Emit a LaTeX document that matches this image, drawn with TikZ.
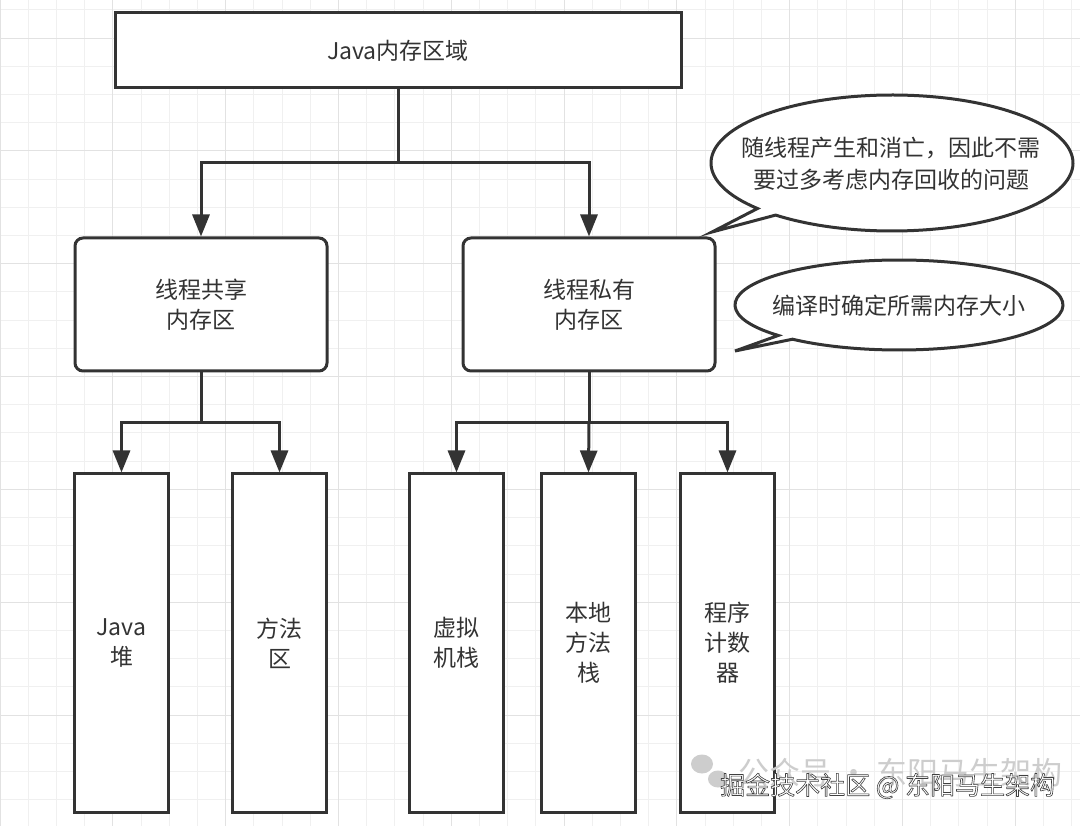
\documentclass[tikz,border=0pt]{standalone}
\usepackage{fontspec}
\setmainfont{Noto Sans CJK SC}
\usetikzlibrary{arrows.meta,calc}
\definecolor{ink}{HTML}{333333}
\definecolor{gridminor}{HTML}{F0F0F0}
\definecolor{gridmajor}{HTML}{E2E2E2}
\definecolor{wmgrey}{HTML}{CDCDCD}
\newcommand{\outlinedtext}[1]{\special{pdf:literal direct 2 Tr 0.6 w 1 j 0.25 0.25 0.25 RG}#1\special{pdf:literal direct 0 Tr}}
\begin{document}
\begin{tikzpicture}[x=1pt,y=-1pt,
  box/.style={draw=ink, line width=3pt, fill=white, text=ink, align=center,
    font=\fontsize{23}{30}\selectfont, inner sep=0pt},
  rbox/.style={box, rounded corners=8pt},
  arr/.style={draw=ink, line width=3pt, -{Triangle[width=17pt,length=22pt]}},
  callout/.style={draw=ink, line width=3pt, fill=white, line join=miter},
  ctext/.style={text=ink, align=center, font=\fontsize{23}{32}\selectfont, inner sep=0pt},
  wmgreytext/.style={text=wmgrey, font=\fontsize{31}{34}\selectfont, inner sep=0pt, anchor=west},
  wmtext/.style={font=\fontsize{25}{28}\selectfont, inner sep=0pt, anchor=west}
]
\useasboundingbox (0,0) rectangle (1080,826);
\fill[white] (0,0) rectangle (1080,826);
% grid
\foreach \k in {0,...,38}{
  \pgfmathsetmacro{\xx}{28.2*\k}
  \draw[gridminor, line width=1pt] (\xx,0) -- (\xx,826);
}
\foreach \k in {0,...,29}{
  \pgfmathsetmacro{\yy}{10+28.2*\k}
  \draw[gridminor, line width=1pt] (0,\yy) -- (1080,\yy);
}
\foreach \k in {0,4,...,36}{
  \pgfmathsetmacro{\xx}{28.2*\k}
  \draw[gridmajor, line width=1pt] (\xx,0) -- (\xx,826);
}
\foreach \k in {1,5,...,29}{
  \pgfmathsetmacro{\yy}{10+28.2*\k}
  \draw[gridmajor, line width=1pt] (0,\yy) -- (1080,\yy);
}

% boxes
\node[box, minimum width=566pt, minimum height=75pt] (top) at (398,50.5) {Java内存区域};
\node[rbox, minimum width=252pt, minimum height=133pt] (m1) at (201,304.5) {线程共享\\内存区};
\node[rbox, minimum width=252pt, minimum height=133pt] (m2) at (589,304.5) {线程私有\\内存区};

\node[box, minimum width=94pt, minimum height=338pt] (b1) at (121.5,643) {Java\\堆};
\node[box, minimum width=94pt, minimum height=338pt] (b2) at (279.5,643) {方法\\区};
\node[box, minimum width=94pt, minimum height=338pt] (b3) at (456.5,643) {虚拟\\机栈};
\node[box, minimum width=94pt, minimum height=338pt] (b4) at (588.5,643) {本地\\方法\\栈};
\node[box, minimum width=94pt, minimum height=338pt] (b5) at (727.5,643) {程序\\计数\\器};

% connectors
\coordinate (j1) at (398,163);
\coordinate (j2) at (201,423);
\coordinate (j3) at (589,423);
\draw[draw=ink, line width=3pt] (top.south) -- (j1);
\draw[arr] (j1) -| (m1.north);
\draw[arr] (j1) -| (m2.north);
\draw[draw=ink, line width=3pt] (m1.south) -- (j2);
\draw[arr] (j2) -| (b1.north);
\draw[arr] (j2) -| (b2.north);
\draw[draw=ink, line width=3pt] (m2.south) -- (j3);
\draw[arr] (j3) -| (b3.north);
\draw[arr] (j3) -- (b4.north);
\draw[arr] (j3) -| (b5.north);

% callouts
\coordinate (t1) at (712,232);
\coordinate (t2) at (735,351);
\draw[callout] (892,163) ++(230:181pt and 68pt)
  arc[start angle=230, end angle=582, x radius=181pt, y radius=68pt] -- (t1) -- cycle;
\node[ctext] (c1) at (891,164) {随线程产生和消亡，因此不需\\要过多考虑内存回收的问题};
\draw[callout] (899,305) ++(229.5:164pt and 45pt)
  arc[start angle=229.5, end angle=582.6, x radius=164pt, y radius=45pt] -- (t2) -- cycle;
\node[ctext] (c2) at (899,306) {编译时确定所需内存大小};

% watermark
\fill[wmgrey] (702,764) ellipse[x radius=11pt, y radius=9.5pt];
\fill[wmgrey] (718,779) ellipse[x radius=10pt, y radius=8.5pt];
\node[wmgreytext] (wm1) at (738,773) {公众号 · 东阳马生架构};
\node[wmtext, text=white] (wm2) at (720,786) {\outlinedtext{掘金技术社区 @ 东阳马生架构}};
\end{tikzpicture}
\end{document}
